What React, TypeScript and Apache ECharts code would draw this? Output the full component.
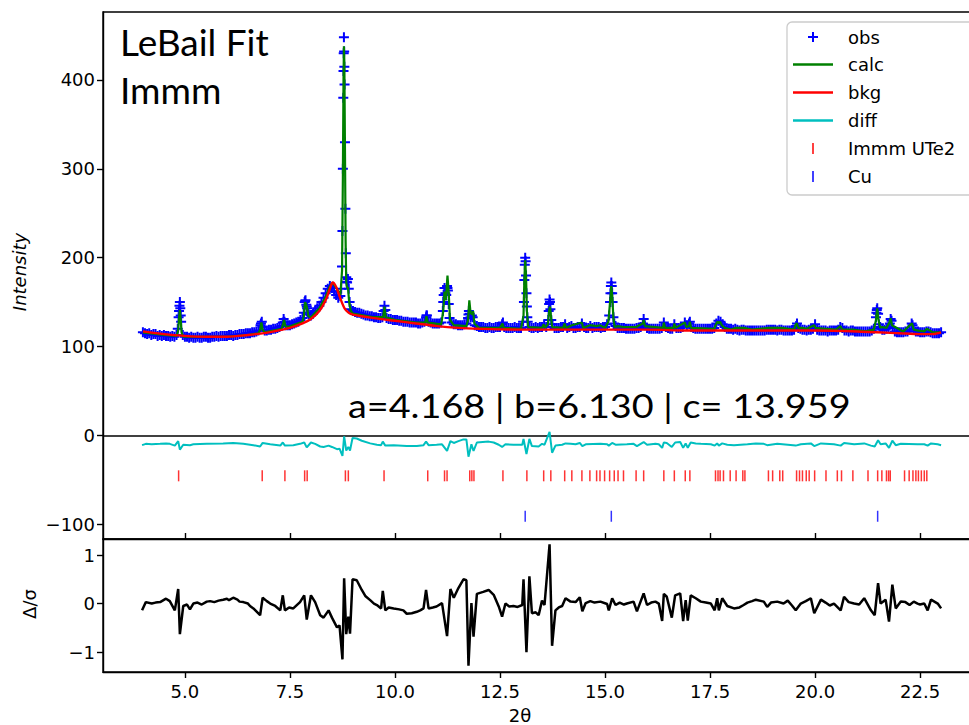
import React, { useEffect, useRef } from "react";
import * as echarts from "echarts";

// ---------------- data ----------------
const X_MIN = 3.05;
const X_MAX = 23.95;
const xTicks = [5, 7.5, 10, 12.5, 15, 17.5, 20, 22.5];
const topYTicks = [-100, 0, 100, 200, 300, 400];
const botYTicks = [-1, 0, 1];

// observed scan: 2θ from 4.00 in steps of 0.05 (counts)
const obsScanStart = 4.0;
const obsScanStep = 0.05;
const obsScan = [
  116,115,114,115,113,114,114,112,113,112,113,112,112,111,112,111,113,133,135,113, // 4.00-4.95
  111,111,110,111,110,110,111,110,110,111,111,110,110,111,111,112,111,112,112,112, // 5.00-5.95
  112,113,113,112,113,113,114,114,114,115,115,115,116,116,117,118,124,122,118,118, // 6.00-6.95
  119,119,120,120,121,122,123,131,124,124,124,125,126,127,128,130,132,150,145,136, // 7.00-7.95
  135,137,140,143,146,150,155,160,165,168,166,162,158,155,157,230,395,173,165,142, // 8.00-8.95
  140,139,138,138,137,136,135,135,134,134,133,133,132,132,133,146,132,131,131,130, // 9.00-9.95
  130,130,129,129,128,128,128,127,127,127,127,126,126,127,128,135,128,127,126,126, // 10.00-10.95
  126,126,127,150,160,166,132,127,125,125,124,124,124,125,126,136,133,133,124,123, // 11.00-11.95
  122,122,122,121,121,122,121,121,122,122,122,125,122,121,121,121,121,122,121,121, // 12.00-12.95
  121,128,200,133,122,121,121,122,121,122,122,124,122,130,142,125,121,121,121,122, // 13.00-13.95
  122,125,121,122,123,121,121,122,122,126,122,121,121,123,121,122,122,122,121,122, // 14.00-14.95
  122,125,135,172,133,123,121,121,121,121,120,120,120,120,120,121,121,122,126,124, // 15.00-15.95
  121,120,120,120,120,120,120,121,127,122,121,120,120,125,121,121,121,122,127,124, // 16.00-16.95
  126,122,121,120,120,120,120,120,120,120,120,120,121,126,129,128,125,122,120,120, // 17.00-17.95
  120,119,120,119,118,119,119,118,118,118,118,118,118,118,118,118,118,119,119,119, // 18.00-18.95
  119,119,118,119,119,118,118,118,118,118,119,123,121,120,119,119,118,119,119,120, // 19.00-19.95
  125,119,118,118,118,118,117,118,118,118,118,119,122,121,118,118,117,118,118,117, // 20.00-20.95
  117,117,117,117,117,117,117,118,120,133,137,122,119,119,120,122,131,121,117,116, // 21.00-21.95
  116,116,116,117,117,119,126,120,117,117,116,116,116,117,117,116,115,115,115,115, // 22.00-22.95
  116, // 23.00
];

// extra observed points on the Bragg peaks [2θ, counts]
const obsPeakPoints: [number, number][] = [
  [4.83,120],[4.86,140],[4.87,146],[4.88,150],[4.89,143],[4.91,128],
  [6.81,126],[6.83,128],
  [7.33,127],[7.37,128],
  [7.83,138],[7.86,151],[7.87,152],[7.89,147],[7.91,143],[7.93,138],
  [8.72,165],[8.74,190],[8.76,300],[8.77,380],[8.775,410],[8.78,430],[8.785,448],[8.79,432],[8.795,415],
  [8.81,330],[8.82,255],[8.83,205],[8.84,178],[8.86,172],[8.88,176],[8.92,150],
  [9.73,140],[9.77,141],
  [10.74,133],[10.76,135],
  [11.14,140],[11.16,158],[11.18,166],[11.22,158],[11.24,168],[11.26,163],[11.28,148],
  [11.74,132],[11.76,140],[11.78,137],[11.83,135],
  [12.57,127],
  [13.07,150],[13.08,175],[13.09,192],[13.11,196],[13.12,180],[13.13,160],[13.14,145],[13.16,128],
  [13.66,140],[13.67,148],[13.68,153],[13.69,150],[13.72,130],
  [15.12,150],[15.13,160],[15.14,168],[15.16,168],[15.17,160],[15.18,150],[15.22,126],
  [15.92,131],
  [17.02,128],
  [19.57,126],
  [21.46,138],[21.47,141],[21.48,143],[21.52,125],
  [21.78,126],[21.82,129],
  [22.32,124],
];

// calculated profile [2θ, counts]
const calc: [number, number][] = [
  [4.0,116],[4.5,113],[4.8,112],[4.84,118],[4.86,132],[4.88,141],[4.9,130],[4.92,116],[4.96,111],[5.5,111],[6.0,111],[6.5,113],[6.75,115],
  [6.79,119],[6.82,127],[6.85,119],[6.9,116],[7.3,120],[7.33,124],[7.36,130],[7.39,123],[7.45,122],[7.8,128],[7.83,134],[7.86,150],[7.88,148],
  [7.91,143],[7.94,134],[8.0,133],[8.2,143],[8.35,156],[8.45,168],[8.52,172],[8.6,166],[8.7,158],[8.74,185],[8.76,290],[8.775,400],[8.785,438],
  [8.795,420],[8.81,320],[8.825,220],[8.84,172],[8.87,165],[8.88,167],[8.91,150],[8.95,140],[9.0,137],[9.5,133],[9.72,133],[9.75,145],[9.78,133],
  [10.0,130],[10.5,127],[10.72,127],[10.75,134],[10.78,127],[11.1,125],[11.15,140],[11.18,162],[11.21,152],[11.25,180],[11.28,160],[11.31,130],
  [11.4,124],[11.7,123],[11.74,130],[11.77,152],[11.8,138],[11.84,136],[11.86,140],[11.89,126],[12.0,121],[12.5,121],[12.56,126],[12.59,121],
  [13.0,120],[13.06,135],[13.08,175],[13.1,197],[13.12,180],[13.14,140],[13.17,122],[13.5,121],[13.54,125],[13.57,121],[13.64,125],[13.67,140],
  [13.69,145],[13.71,136],[13.74,122],[14.0,121],[14.04,126],[14.07,121],[14.21,124],[14.45,127],[14.48,121],[14.64,124],[14.8,123],[14.88,124],
  [15.0,121],[15.08,128],[15.12,150],[15.15,168],[15.17,158],[15.2,132],[15.23,122],[15.31,123],[15.44,122],[15.74,122],[15.9,126],[15.92,130],
  [15.95,123],[16.38,121],[16.4,127],[16.43,121],[16.63,121],[16.65,126],[16.68,121],[16.9,127],[16.93,122],[17.0,123],[17.02,128],[17.05,121],
  [17.6,120],[17.64,125],[17.68,128],[17.71,126],[17.74,128],[17.78,124],[17.85,121],[18.0,119],[18.12,121],[18.3,121],[18.5,119],[18.9,121],
  [19.0,121],[19.2,121],[19.5,119],[19.54,125],[19.57,126],[19.6,121],[19.7,121],[19.8,120],[19.98,124],[20.01,121],[20.26,120],[20.5,119],
  [20.6,123],[20.65,119],[20.9,119],[21.2,117],[21.4,119],[21.45,130],[21.48,143],[21.51,130],[21.55,121],[21.59,122],[21.7,121],[21.77,127],
  [21.8,132],[21.83,124],[22.1,117],[22.28,125],[22.31,126],[22.35,119],[22.46,118],[22.6,117],[22.66,120],[22.7,119],[22.8,116],[23.0,116],
];

// background [2θ, counts]
const bkg: [number, number][] = [
  [4.0,117],[4.5,114],[5.0,112],[5.5,111],[6.0,111],[6.5,113],[7.0,116],[7.5,121],[7.8,126],[8.0,131],[8.2,140],[8.35,152],[8.45,165],
  [8.52,172],[8.6,167],[8.7,154],[8.8,143],[8.9,138],[9.0,136],[9.5,132],[10.0,129],[10.5,126],[11.0,123],[11.5,121],[12.0,120],[13.0,119],
  [14.0,119],[15.0,119],[16.0,119],[17.0,118],[18.0,118],[19.0,118],[20.0,118],[21.0,117],[22.0,115],[22.5,114],[22.8,114],[23.0,116],
];

// difference curve (offset) [2θ, counts]
const diff: [number, number][] = [
  [3.98,-11],[4.07,-9.5],[4.21,-10],[4.41,-9.5],[4.55,-9],[4.64,-9.5],[4.76,-11.5],[4.84,-6.5],[4.88,-16],[4.96,-10.5],[5.12,-11],[5.2,-10],
  [5.52,-9.5],[5.91,-9],[6.15,-8.5],[6.39,-9.5],[6.63,-11],[6.79,-12.5],[6.85,-8.5],[7.03,-10],[7.27,-11.5],[7.33,-8],[7.38,-11.5],[7.58,-11],
  [7.74,-9.5],[7.84,-8],[7.9,-13.5],[8.0,-8],[8.1,-9.5],[8.22,-12.5],[8.3,-13],[8.42,-11.5],[8.5,-13],[8.62,-15.5],[8.68,-15],[8.75,-23],
  [8.79,-1],[8.84,-17],[8.89,-13],[8.93,-17],[8.99,-3],[9.09,-3.5],[9.21,-6],[9.41,-9],[9.57,-10.5],[9.67,-11],[9.71,-7],[9.77,-11.5],
  [9.97,-11],[10.28,-12],[10.52,-12],[10.68,-11],[10.74,-7],[10.8,-11],[10.99,-10.5],[11.12,-10],[11.24,-17.5],[11.32,-6.5],[11.4,-8.5],
  [11.51,-6.5],[11.63,-4.5],[11.7,-4.5],[11.75,-24],[11.82,-10],[11.87,-17.5],[11.95,-8],[12.23,-7],[12.35,-8],[12.47,-10.5],[12.55,-13],
  [12.63,-10],[12.82,-10.5],[13.03,-10.5],[13.06,-4],[13.13,-21],[13.2,-4],[13.26,-12],[13.42,-12.5],[13.5,-9.5],[13.56,-10.5],[13.68,4],
  [13.74,-19.5],[13.82,-11.5],[13.98,-10.5],[14.06,-9],[14.18,-9.5],[14.3,-10],[14.4,-8.5],[14.46,-12],[14.54,-10],[14.89,-9.5],[15.05,-10],
  [15.09,-11.5],[15.17,-8.5],[15.25,-10.5],[15.52,-10],[15.68,-9.5],[15.76,-12],[15.92,-7.5],[16.0,-10.5],[16.2,-9.5],[16.28,-10],[16.36,-14],
  [16.4,-8],[16.47,-8.5],[16.59,-13],[16.67,-8],[16.79,-7.5],[16.86,-14],[16.92,-9],[16.97,-14],[17.04,-8],[17.16,-9],[17.28,-9.5],[17.52,-10],
  [17.61,-11.5],[17.67,-9],[17.71,-11.5],[17.79,-9],[17.91,-10.5],[18.07,-11],[18.39,-10],[18.59,-9],[18.78,-9.5],[18.86,-11],[19.1,-9.5],
  [19.54,-11.5],[19.66,-10],[19.9,-9],[19.98,-12],[20.14,-9],[20.45,-10],[20.61,-11.5],[20.69,-8.5],[20.93,-10],[21.17,-9],[21.33,-11.5],
  [21.42,-12.5],[21.5,-5.5],[21.56,-10],[21.68,-9],[21.76,-14],[21.84,-6],[21.92,-11],[22.04,-9.5],[22.44,-10],[22.6,-10],[22.68,-11.5],
  [22.76,-9],[22.92,-10],[23.0,-11],
];

// normalised residual Δ/σ [2θ, value]
const deltaSigma: [number, number][] = [
  [3.98,-0.14],[4.07,0.03],[4.21,0.0],[4.3,0.02],[4.41,0.03],[4.55,0.1],[4.64,0.05],[4.76,-0.14],[4.84,0.3],[4.88,-0.63],[4.96,-0.05],
  [5.05,-0.02],[5.12,-0.12],[5.2,0.0],[5.3,0.02],[5.4,-0.02],[5.52,0.04],[5.6,0.05],[5.7,0.03],[5.8,0.06],[5.91,0.08],[6.0,0.1],[6.05,0.07],
  [6.15,0.12],[6.25,0.08],[6.3,0.04],[6.39,0.03],[6.5,0.0],[6.55,-0.05],[6.63,-0.1],[6.79,-0.24],[6.85,0.12],[6.95,0.05],[7.03,0.0],
  [7.15,-0.05],[7.27,-0.14],[7.33,0.17],[7.38,-0.14],[7.48,-0.08],[7.58,-0.1],[7.74,0.03],[7.84,0.17],[7.9,-0.33],[8.0,0.17],[8.1,0.03],
  [8.22,-0.24],[8.3,-0.29],[8.42,-0.14],[8.5,-0.29],[8.62,-0.49],[8.68,-0.45],[8.75,-1.15],[8.79,0.52],[8.84,-0.63],[8.89,-0.27],[8.93,-0.62],
  [8.99,0.5],[9.09,0.48],[9.21,0.28],[9.3,0.15],[9.41,0.07],[9.5,0.0],[9.57,-0.03],[9.67,-0.1],[9.71,0.26],[9.77,-0.14],[9.85,-0.08],
  [9.97,-0.1],[10.1,-0.12],[10.2,-0.14],[10.28,-0.21],[10.4,-0.2],[10.52,-0.17],[10.6,-0.14],[10.68,-0.1],[10.74,0.28],[10.8,-0.1],
  [10.9,-0.08],[10.99,-0.06],[11.12,0.01],[11.24,-0.67],[11.32,0.3],[11.4,0.12],[11.51,0.32],[11.63,0.5],[11.7,0.48],[11.75,-1.28],
  [11.82,0.01],[11.87,-0.68],[11.95,0.2],[12.1,0.24],[12.23,0.28],[12.35,0.18],[12.47,-0.06],[12.55,-0.27],[12.63,0.0],[12.72,-0.06],
  [12.82,-0.05],[12.92,-0.07],[13.03,-0.03],[13.06,0.5],[13.13,-1.0],[13.2,0.56],[13.26,-0.2],[13.35,-0.18],[13.42,-0.24],[13.5,0.06],
  [13.56,-0.03],[13.68,1.22],[13.74,-0.87],[13.82,-0.14],[13.9,-0.08],[13.98,-0.05],[14.06,0.11],[14.18,0.04],[14.3,0.03],[14.4,0.13],
  [14.46,-0.16],[14.54,0.01],[14.65,0.05],[14.75,0.02],[14.89,0.04],[15.05,-0.01],[15.09,-0.14],[15.17,0.11],[15.25,-0.03],[15.35,0.02],
  [15.45,-0.02],[15.52,0.0],[15.68,0.04],[15.76,-0.16],[15.92,0.21],[16.0,-0.03],[16.1,0.02],[16.2,0.04],[16.28,0.0],[16.36,-0.36],
  [16.4,0.2],[16.47,0.14],[16.59,-0.29],[16.67,0.17],[16.79,0.21],[16.86,-0.36],[16.92,0.07],[16.97,-0.35],[17.04,0.17],[17.16,0.11],
  [17.28,0.04],[17.4,0.02],[17.52,0.0],[17.61,-0.14],[17.67,0.11],[17.71,-0.14],[17.79,0.11],[17.91,-0.05],[18.07,-0.1],[18.2,-0.08],
  [18.3,-0.03],[18.39,0.02],[18.5,0.05],[18.59,0.08],[18.78,0.04],[18.86,-0.07],[18.95,0.02],[19.1,0.04],[19.25,0.0],[19.35,0.06],
  [19.45,-0.04],[19.54,-0.14],[19.66,0.0],[19.78,0.05],[19.9,0.11],[19.98,-0.2],[20.14,0.08],[20.25,0.02],[20.35,-0.04],[20.45,0.0],
  [20.61,-0.14],[20.69,0.14],[20.8,0.03],[20.93,0.0],[21.05,-0.02],[21.17,0.11],[21.33,-0.14],[21.42,-0.24],[21.5,0.42],[21.56,0.0],
  [21.68,0.08],[21.76,-0.37],[21.84,0.39],[21.92,-0.1],[22.04,0.04],[22.15,0.03],[22.25,-0.03],[22.35,0.04],[22.44,0.0],[22.5,-0.02],
  [22.6,0.0],[22.68,-0.14],[22.76,0.08],[22.92,0.0],[23.0,-0.1],
];

// reflection positions
const immmRefl = [
  4.85, 6.84, 7.38, 7.85, 7.91, 8.82, 8.89, 9.74, 10.78, 11.18, 11.24, 11.78, 11.83, 11.88, 12.57, 13.14, 13.54, 13.71,
  14.04, 14.21, 14.45, 14.64, 14.8, 14.88, 14.99, 15.11, 15.22, 15.31, 15.44, 15.74, 15.92, 16.4, 16.65, 16.91, 17.02,
  17.63, 17.69, 17.74, 17.82, 17.98, 18.12, 18.28, 18.33, 18.89, 18.99, 19.16, 19.23, 19.56, 19.63, 19.7, 19.79, 19.86,
  19.99, 20.26, 20.53, 20.63, 20.9, 21.26, 21.49, 21.59, 21.7, 21.75, 21.79, 22.13, 22.24, 22.33, 22.4, 22.46, 22.53,
  22.6, 22.66,
];
const cuRefl = [13.1, 15.15, 21.49];
const IMMM_TICK_Y = -45.5;
const CU_TICK_Y = -91;

const titleLines = ["LeBail Fit", "Immm"];
const cellText = "a=4.168 | b=6.130 | c= 13.959";
const legendItems = ["obs", "calc", "bkg", "diff", "Immm UTe2", "Cu"];

// ---------------- styling ----------------
const FONT = "DejaVu Sans";
const SANS2 = "Lato";
const PLUS = "path://M4,0H6V4H10V6H6V10H4V6H0V4H4Z";
const fmtMinus = (v: number, d = 0) => (v < 0 ? "\u2212" + Math.abs(v).toFixed(d) : v.toFixed(d));

export default function App() {
  const ref = useRef<HTMLDivElement>(null);

  useEffect(() => {
    if (!ref.current) return;
    const chart = echarts.init(ref.current, undefined, { renderer: "svg" });

    const obsData: [number, number][] = obsScan
      .map((y, i) => [obsScanStart + i * obsScanStep, y] as [number, number])
      .concat(obsPeakPoints);

    const axisLine = { show: true, onZero: false, lineStyle: { color: "#000", width: 1.4 } };
    const labelStyle = { color: "#000", fontFamily: FONT, fontSize: 18 };

    const legendRows = [37, 64.5, 92.5, 120.5, 148.5, 176.5];
    const hx = 813;
    const legendGraphics: any[] = [
      {
        type: "rect",
        shape: { x: 787, y: 22, width: 230, height: 173, r: 5 },
        style: { fill: "rgba(255,255,255,0.85)", stroke: "#cccccc", lineWidth: 1.3 },
        z: 100,
      },
      { type: "rect", shape: { x: hx - 5, y: legendRows[0] - 1, width: 10, height: 2 }, style: { fill: "#0000ff" }, z: 101 },
      { type: "rect", shape: { x: hx - 1, y: legendRows[0] - 5, width: 2, height: 10 }, style: { fill: "#0000ff" }, z: 101 },
      { type: "line", shape: { x1: 793, y1: legendRows[1], x2: 833, y2: legendRows[1] }, style: { stroke: "#008000", lineWidth: 2.5 }, z: 101 },
      { type: "line", shape: { x1: 793, y1: legendRows[2], x2: 833, y2: legendRows[2] }, style: { stroke: "#ff0000", lineWidth: 2.5 }, z: 101 },
      { type: "line", shape: { x1: 793, y1: legendRows[3], x2: 833, y2: legendRows[3] }, style: { stroke: "#00bfbf", lineWidth: 2.5 }, z: 101 },
      { type: "rect", shape: { x: hx - 0.75, y: legendRows[4] - 5.5, width: 1.5, height: 11 }, style: { fill: "#ff0000" }, z: 101 },
      { type: "rect", shape: { x: hx - 0.75, y: legendRows[5] - 5.5, width: 1.5, height: 11 }, style: { fill: "#0000ff" }, z: 101 },
      ...legendItems.map((t, i) => ({
        type: "text",
        x: 848,
        y: legendRows[i],
        style: { text: t, fill: "#000", font: `18px '${FONT}'`, textAlign: "left", textVerticalAlign: "middle" },
        z: 101,
      })),
    ];

    const gridCommon = { left: 103, right: 0, show: true, borderColor: "#000", borderWidth: 1.4, backgroundColor: "transparent" };

    const option: any = {
      animation: false,
      backgroundColor: "#fff",
      grid: [
        { ...gridCommon, top: 12, height: 527 },
        { ...gridCommon, top: 539, height: 133 },
      ],
      xAxis: [
        {
          type: "value", gridIndex: 0, min: X_MIN, max: X_MAX, position: "bottom",
          axisLine, splitLine: { show: false },
          axisTick: { show: true, inside: true, length: 6, customValues: xTicks, lineStyle: { color: "#000", width: 1.4 } },
          axisLabel: { show: false, customValues: xTicks },
        },
        {
          type: "value", gridIndex: 1, min: X_MIN, max: X_MAX, position: "bottom",
          axisLine, splitLine: { show: false },
          axisTick: { show: true, length: 6, customValues: xTicks, lineStyle: { color: "#000", width: 1.4 } },
          axisLabel: { ...labelStyle, margin: 10, customValues: xTicks, formatter: (v: number) => v.toFixed(1) },
        },
      ],
      yAxis: [
        {
          type: "value", gridIndex: 0, min: -116.6, max: 476.5,
          axisLine, splitLine: { show: false },
          axisTick: { show: true, length: 6, customValues: topYTicks, lineStyle: { color: "#000", width: 1.4 } },
          axisLabel: { ...labelStyle, margin: 8, customValues: topYTicks, formatter: (v: number) => fmtMinus(v) },
        },
        {
          type: "value", gridIndex: 1, min: -1.41, max: 1.33,
          axisLine, splitLine: { show: false },
          axisTick: { show: true, length: 6, customValues: botYTicks, lineStyle: { color: "#000", width: 1.4 } },
          axisLabel: { ...labelStyle, margin: 8, customValues: botYTicks, formatter: (v: number) => fmtMinus(v) },
        },
      ],
      series: [
        {
          name: "obs", type: "scatter", xAxisIndex: 0, yAxisIndex: 0, data: obsData,
          symbol: PLUS, symbolSize: 10, itemStyle: { color: "#0000ff", opacity: 1 }, z: 2, silent: true,
        },
        {
          name: "calc", type: "line", xAxisIndex: 0, yAxisIndex: 0, data: calc, showSymbol: false,
          lineStyle: { color: "#008000", width: 2.2 }, z: 3, silent: true,
        },
        {
          name: "bkg", type: "line", xAxisIndex: 0, yAxisIndex: 0, data: bkg, showSymbol: false, smooth: 0.3,
          lineStyle: { color: "#ff0000", width: 2.4 }, z: 4, silent: true,
        },
        {
          name: "diff", type: "line", xAxisIndex: 0, yAxisIndex: 0, data: diff, showSymbol: false,
          lineStyle: { color: "#00bfbf", width: 2 }, z: 5, silent: true,
          markLine: {
            silent: true, symbol: ["none", "none"], label: { show: false },
            lineStyle: { color: "#000", width: 1.5, type: "solid" },
            data: [{ yAxis: 0 }],
          },
        },
        {
          name: "Immm UTe2", type: "scatter", xAxisIndex: 0, yAxisIndex: 0,
          data: immmRefl.map((x) => [x, IMMM_TICK_Y]),
          symbol: "rect", symbolSize: [1.5, 11], itemStyle: { color: "#ff0000" }, z: 6, silent: true,
        },
        {
          name: "Cu", type: "scatter", xAxisIndex: 0, yAxisIndex: 0,
          data: cuRefl.map((x) => [x, CU_TICK_Y]),
          symbol: "rect", symbolSize: [1.5, 11], itemStyle: { color: "#0000ff" }, z: 6, silent: true,
        },
        {
          name: "delta", type: "line", xAxisIndex: 1, yAxisIndex: 1, data: deltaSigma, showSymbol: false,
          lineStyle: { color: "#000", width: 2.5 }, z: 3, silent: true,
        },
      ],
      graphic: [
        {
          type: "text", x: 120, y: 60,
          style: { text: titleLines[0], fill: "#000", font: `37px '${SANS2}'`, textAlign: "left", textVerticalAlign: "bottom" },
          z: 50,
        },
        {
          type: "text", x: 120, y: 108,
          style: { text: titleLines[1], fill: "#000", font: `37px '${SANS2}'`, textAlign: "left", textVerticalAlign: "bottom" },
          z: 50,
        },
        {
          type: "text", x: 348, y: 405, scaleX: 1.145, scaleY: 1,
          style: { text: cellText, fill: "#000", font: `33px '${SANS2}'`, textAlign: "left", textVerticalAlign: "middle" },
          z: 50,
        },
        {
          type: "text", x: 19, y: 272, rotation: Math.PI / 2,
          style: { text: "Intensity", fill: "#000", font: `italic 18px '${FONT}'`, textAlign: "center", textVerticalAlign: "middle" },
        },
        {
          type: "text", x: 29, y: 604, rotation: Math.PI / 2,
          style: { text: "Δ/σ", fill: "#000", font: `18px '${FONT}'`, textAlign: "center", textVerticalAlign: "middle" },
        },
        {
          type: "text", x: 520, y: 715,
          style: { text: "2θ", fill: "#000", font: `18px '${FONT}'`, textAlign: "center", textVerticalAlign: "middle" },
        },
        ...legendGraphics,
      ],
    };

    chart.setOption(option);
    return () => chart.dispose();
  }, []);

  return (
    <div style={{ position: "fixed", left: 0, top: 0, width: 969, height: 725, overflow: "hidden", background: "#fff" }}>
      <div ref={ref} style={{ width: 981, height: 725 }} />
    </div>
  );
}
